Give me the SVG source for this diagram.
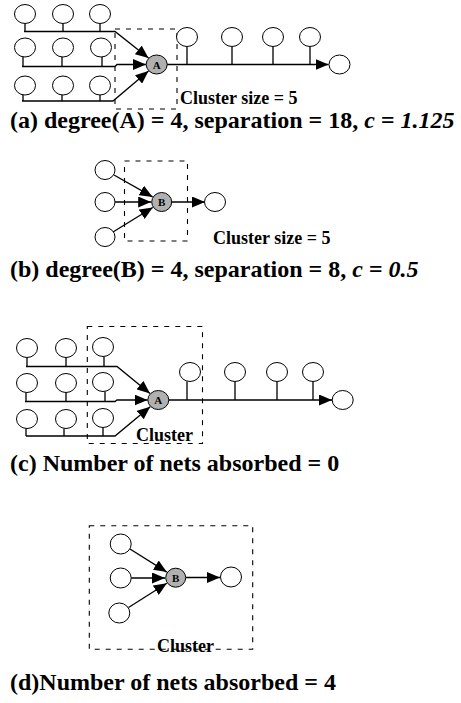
<svg xmlns="http://www.w3.org/2000/svg" width="461" height="703" viewBox="0 0 461 703">
<style>
.n{fill:#fff;stroke:#000;stroke-width:1}
.g{fill:#b0b0b0;stroke:#000;stroke-width:1}
.w{fill:none;stroke:#000;stroke-width:1.3}
.wa{fill:none;stroke:#000;stroke-width:1.3;marker-end:url(#ah)}
.box{fill:none;stroke:#000;stroke-width:1.1;stroke-dasharray:5 6}
text{font-family:"Liberation Serif","Times New Roman",serif;font-weight:bold;fill:#000}
.lbl{font-size:18px}
.cap{font-size:24px}
.nl{font-size:11px;text-anchor:middle}
.it{font-style:italic}
</style>
<defs>
<marker id="ah" markerUnits="userSpaceOnUse" markerWidth="13" markerHeight="11" refX="13" refY="5.5" orient="auto" viewBox="0 0 13 11"><path d="M0,0 L13,5.5 L0,11 z" fill="#000"/></marker>
</defs>

<!-- Panel (a) -->
<g id="clusterA_box"><rect class="box" x="115" y="29" width="62" height="80"/></g>
<g id="connectors_a">
<path class="w" d="M25,23.5V31.5M63,23.5V31.5M100,23.5V31.5"/>
<path class="w" d="M23,57V66.5M62,57V66.5M102,57V66.5"/>
<path class="w" d="M23,95V101M62,95V101M100,95V101"/>
<path class="wa" d="M24,31.5H115L148.5,58"/>
<path class="wa" d="M22,66.5H115L117,64.5H146"/>
<path class="wa" d="M22,101H113L148.5,71"/>
<path class="w" d="M187,46.5V64.5M232,46.5V64.5M273,46.5V64.5M310,46.5V64.5"/>
<path class="wa" d="M167,64.5H328.5"/>
</g>
<g id="a_n1"><ellipse class="n" cx="25" cy="14" rx="10.5" ry="9.5"/></g>
<g id="a_n2"><ellipse class="n" cx="63" cy="14" rx="10.5" ry="9.5"/></g>
<g id="a_n3"><ellipse class="n" cx="100" cy="14" rx="10.5" ry="9.5"/></g>
<g id="a_n4"><ellipse class="n" cx="25" cy="47.5" rx="10.5" ry="9.5"/></g>
<g id="a_n5"><ellipse class="n" cx="63" cy="47.5" rx="10.5" ry="9.5"/></g>
<g id="a_n6"><ellipse class="n" cx="101" cy="47.5" rx="10.5" ry="9.5"/></g>
<g id="a_n7"><ellipse class="n" cx="25" cy="85.5" rx="10.5" ry="9.5"/></g>
<g id="a_n8"><ellipse class="n" cx="63" cy="85.5" rx="10.5" ry="9.5"/></g>
<g id="a_n9"><ellipse class="n" cx="100" cy="85.5" rx="10.5" ry="9.5"/></g>
<g id="a_A"><ellipse class="g" cx="156.7" cy="64.5" rx="10.5" ry="9.5"/><text class="nl" x="156.7" y="68.5">A</text></g>
<g id="a_r1"><ellipse class="n" cx="187" cy="37" rx="10.5" ry="9.5"/></g>
<g id="a_r2"><ellipse class="n" cx="232" cy="37" rx="10.5" ry="9.5"/></g>
<g id="a_r3"><ellipse class="n" cx="273" cy="37" rx="10.5" ry="9.5"/></g>
<g id="a_r4"><ellipse class="n" cx="310" cy="37" rx="10.5" ry="9.5"/></g>
<g id="a_end"><ellipse class="n" cx="339.5" cy="64.5" rx="10.5" ry="9.5"/></g>
<text class="lbl" x="180" y="104">Cluster size = 5</text>
<text class="cap" x="10" y="128">(a) degree(A) = 4, separation = 18, <tspan class="it">c = 1.125</tspan></text>

<!-- Panel (b) -->
<g id="clusterB_box"><rect class="box" x="124.5" y="161" width="63" height="80"/></g>
<g id="connectors_b">
<path class="wa" d="M114,175L152.6,196.9"/>
<path class="wa" d="M115,202H151.2"/>
<path class="wa" d="M113,232L152.8,207.5"/>
<path class="wa" d="M171.7,202H205"/>
</g>
<g id="b_n1"><ellipse class="n" cx="105" cy="170" rx="10" ry="9.5"/></g>
<g id="b_n2"><ellipse class="n" cx="105" cy="202" rx="10" ry="9.5"/></g>
<g id="b_n3"><ellipse class="n" cx="105" cy="237" rx="10" ry="9.5"/></g>
<g id="b_B"><ellipse class="g" cx="161.7" cy="202" rx="10" ry="9.5"/><text class="nl" x="161.7" y="206">B</text></g>
<g id="b_end"><ellipse class="n" cx="215" cy="202" rx="10.5" ry="9.5"/></g>
<text class="lbl" x="213" y="244">Cluster size = 5</text>
<text class="cap" x="10" y="277">(b) degree(B) = 4, separation = 8, <tspan class="it">c = 0.5</tspan></text>

<!-- Panel (c) -->
<g id="clusterC_box"><rect class="box" x="87.3" y="326.5" width="115.2" height="117"/></g>
<g id="connectors_c">
<path class="w" d="M27,357.5V366.5M66,357.5V366.5M104,356.5V366.5"/>
<path class="w" d="M26,392.5V401.5M66,392.5V401.5M105,391.5V401.5"/>
<path class="w" d="M26,428.5V436M64,428.5V436M103,427.5V436"/>
<path class="wa" d="M26,366.5H117L150,393.4"/>
<path class="wa" d="M25,401.5H115L117,400H147.5"/>
<path class="wa" d="M26,436H115L150.2,406.7"/>
<path class="w" d="M187,381.5V400M235,381.5V400M277,381.5V400M313,381.5V400"/>
<path class="wa" d="M169,400H332"/>
</g>
<g id="c_n1"><ellipse class="n" cx="27" cy="348" rx="10.5" ry="9.5"/></g>
<g id="c_n2"><ellipse class="n" cx="66" cy="348" rx="10.5" ry="9.5"/></g>
<g id="c_n3"><ellipse class="n" cx="103" cy="347" rx="10.5" ry="9.5"/></g>
<g id="c_n4"><ellipse class="n" cx="27" cy="383" rx="10.5" ry="9.5"/></g>
<g id="c_n5"><ellipse class="n" cx="66" cy="383" rx="10.5" ry="9.5"/></g>
<g id="c_n6"><ellipse class="n" cx="103" cy="382" rx="10.5" ry="9.5"/></g>
<g id="c_n7"><ellipse class="n" cx="27" cy="419" rx="10.5" ry="9.5"/></g>
<g id="c_n8"><ellipse class="n" cx="66" cy="419" rx="10.5" ry="9.5"/></g>
<g id="c_n9"><ellipse class="n" cx="103" cy="418" rx="10.5" ry="9.5"/></g>
<g id="c_A"><ellipse class="g" cx="158.3" cy="400" rx="10.5" ry="9.5"/><text class="nl" x="158.3" y="404">A</text></g>
<g id="c_r1"><ellipse class="n" cx="190" cy="372" rx="10.5" ry="9.5"/></g>
<g id="c_r2"><ellipse class="n" cx="235" cy="372" rx="10.5" ry="9.5"/></g>
<g id="c_r3"><ellipse class="n" cx="277" cy="372" rx="10.5" ry="9.5"/></g>
<g id="c_r4"><ellipse class="n" cx="313" cy="372" rx="10.5" ry="9.5"/></g>
<g id="c_end"><ellipse class="n" cx="342.7" cy="400" rx="10.5" ry="9.5"/></g>
<text class="lbl" x="136" y="441">Cluster</text>
<text class="cap" x="10" y="471">(c) Number of nets absorbed = 0</text>

<!-- Panel (d) -->
<g id="clusterD_box"><rect class="box" x="89.3" y="525.7" width="163.4" height="123.6"/></g>
<g id="connectors_d">
<path class="wa" d="M130,549L166.8,572.1"/>
<path class="wa" d="M131.2,578H165"/>
<path class="wa" d="M128.5,607.5L166.8,583.3"/>
<path class="wa" d="M186,577.5H220"/>
</g>
<g id="d_n1"><ellipse class="n" cx="120.7" cy="544" rx="10.5" ry="10"/></g>
<g id="d_n2"><ellipse class="n" cx="120.7" cy="578" rx="10.5" ry="10"/></g>
<g id="d_n3"><ellipse class="n" cx="119.3" cy="613" rx="10.5" ry="10"/></g>
<g id="d_B"><ellipse class="g" cx="175.7" cy="577.7" rx="10" ry="9.5"/><text class="nl" x="175.7" y="581.7">B</text></g>
<g id="d_end"><ellipse class="n" cx="231" cy="577" rx="10.5" ry="10"/></g>
<text class="lbl" x="157" y="652">Cluster</text>
<text class="cap" x="10" y="690">(d)Number of nets absorbed = 4</text>
</svg>
